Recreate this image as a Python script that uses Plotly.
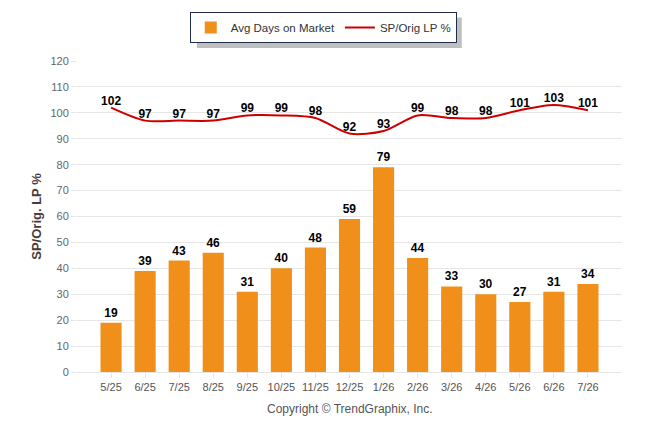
import plotly.graph_objects as go

months = ["5/25", "6/25", "7/25", "8/25", "9/25", "10/25", "11/25", "12/25",
          "1/26", "2/26", "3/26", "4/26", "5/26", "6/26", "7/26"]
avg_days = [19, 39, 43, 46, 31, 40, 48, 59, 79, 44, 33, 30, 27, 31, 34]
sp_orig_lp = [102, 97, 97, 97, 99, 99, 98, 92, 93, 99, 98, 98, 101, 103, 101]

label_font = dict(family="Liberation Sans, Arial, sans-serif", size=12, color="#000000")

fig = go.Figure()

fig.add_trace(go.Bar(
    x=list(range(len(months))), y=avg_days, name="Avg Days on Market",
    marker=dict(color="#f0901a", line=dict(width=0)),
    width=0.62,
    text=[f"<b>{v}</b>" for v in avg_days], textposition="outside",
    textfont=label_font, cliponaxis=False,
))

fig.add_trace(go.Scatter(
    x=list(range(len(months))), y=sp_orig_lp, name="SP/Orig LP %",
    mode="lines+text",
    line=dict(color="#cc0000", width=2, shape="spline", smoothing=0.8),
    text=[f"<b>{v}</b>" for v in sp_orig_lp], textposition="top center",
    textfont=label_font, cliponaxis=False,
))

# soft shadow behind the legend box
fig.add_shape(type="rect", xref="paper", yref="paper",
              x0=0.22, x1=0.706, y0=1.042, y1=1.14,
              fillcolor="rgba(0,0,0,0.25)", line=dict(width=0), layer="above")

fig.update_layout(
    width=646, height=434,
    margin=dict(l=69, r=32, t=53, b=70, autoexpand=False),
    paper_bgcolor="white", plot_bgcolor="white",
    font=dict(family="Liberation Sans, Arial, sans-serif", size=11, color="#555555"),
    showlegend=True,
    legend=dict(
        orientation="h", x=0.488, xanchor="center", y=0.991, yanchor="top",
        xref="container", yref="container",
        bordercolor="#1f2d4d", borderwidth=1, bgcolor="white",
        font=dict(size=11.5, color="#333333"),
        itemwidth=30,
    ),
    xaxis=dict(
        tickmode="array", tickvals=list(range(len(months))), ticktext=months,
        range=[-1, 15], showgrid=False, zeroline=False,
        showline=True, linecolor="#e6e6e6", linewidth=1,
        ticks="outside", tickcolor="#e6e6e6", ticklen=5,
        tickfont=dict(size=11, color="#555555"),
    ),
    yaxis=dict(
        range=[0, 120], dtick=10, showgrid=True, gridcolor="#e6e6e6",
        zeroline=False, ticks="outside", ticklen=5, tickcolor="#e6e6e6",
        tickfont=dict(size=11, color="#666666"),
        title=dict(text="<b>SP/Orig. LP %</b>", font=dict(size=13, color="#4a3a3a"), standoff=5),
    ),
    annotations=[dict(
        text="Copyright © TrendGraphix, Inc.", xref="paper", yref="paper",
        x=0.5, y=-0.12, xanchor="center", yanchor="middle", showarrow=False,
        font=dict(size=12, color="#555555"),
    )],
)

fig.write_html("out.html")
